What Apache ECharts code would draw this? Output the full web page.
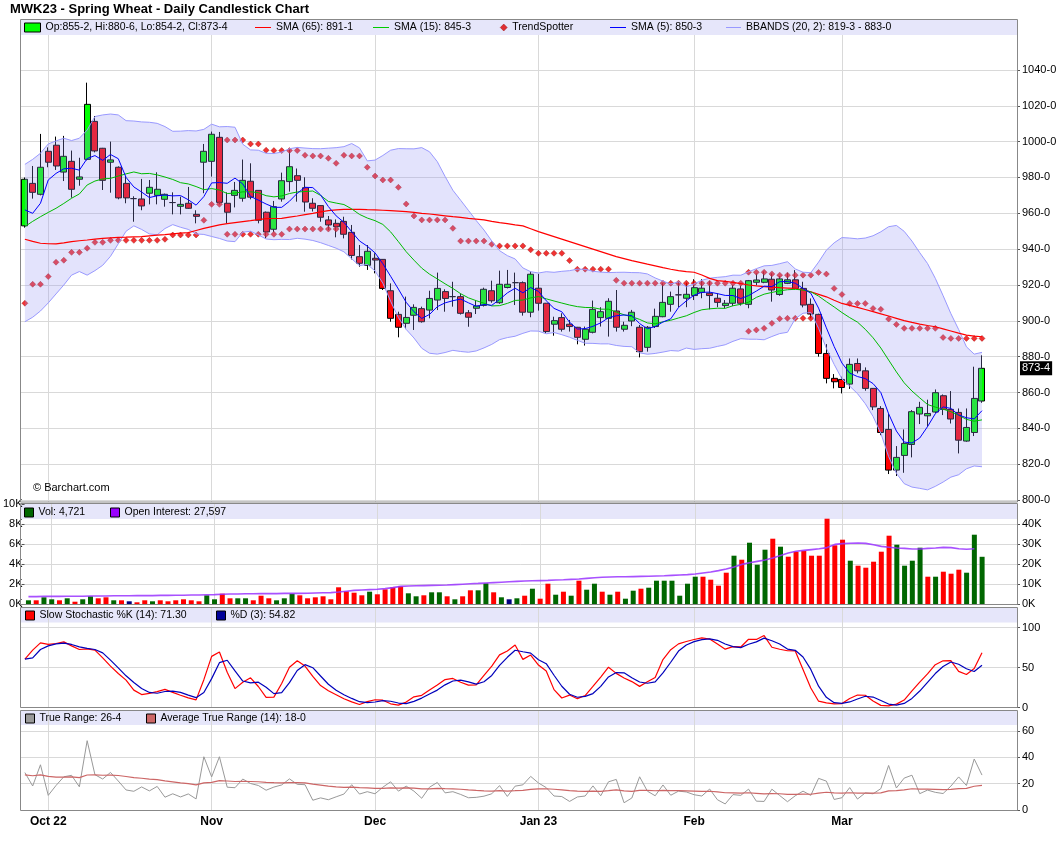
<!DOCTYPE html>
<html>
<head>
<meta charset="utf-8">
<script src="https://cdn.jsdelivr.net/npm/echarts@6/dist/echarts.min.js"></script>
<style>
  html, body { margin: 0; padding: 0; background: #fff; }
  #chart { width: 1060px; height: 851px; }
</style>
</head>
<body>
<div id="chart"></div>
<script>
var FONT = "'Liberation Sans', Arial, sans-serif";

// ---- trading days (Sep 28 2022 .. Mar 27 2023, plus 4 empty slots on the right)
var holidays = ['2022-11-24', '2022-12-26', '2023-01-02', '2023-01-16', '2023-02-20'];
var dates = [];
var d = new Date(Date.UTC(2022, 8, 28));
while (dates.length < 128) {
  var wd = d.getUTCDay();
  var s = d.toISOString().slice(0, 10);
  if (wd !== 0 && wd !== 6 && holidays.indexOf(s) < 0) dates.push(s);
  d.setUTCDate(d.getUTCDate() + 1);
}
var monthLabels = {
  '2022-10-03': 'Oct 22', '2022-11-01': 'Nov', '2022-12-01': 'Dec',
  '2023-01-03': 'Jan 23', '2023-02-01': 'Feb', '2023-03-01': 'Mar'
};

// ---- daily prices
var opens = [953, 976.7, 970.6, 994.6, 998, 983, 989, 979, 990.1, 1011.3,
  996.3, 988.5, 985.7, 976.7, 968.2, 968, 971.2, 970, 967.8, 966,
  963.9, 965.6, 959.4, 988.5, 989, 1002.4, 965.6, 970, 968.4, 977.9,
  972.8, 960.6, 951.1, 968, 977.7, 981, 974.3, 965.6, 964.3, 956.3,
  954.4, 955.5, 949.4, 935.8, 931, 934.9, 934.3, 916.8, 903.6, 898.6,
  903.1, 906.8, 906, 911.6, 916.3, 913.5, 913.5, 904.5, 907, 908.6,
  916.8, 910.1, 918.6, 921.3, 921.3, 904.8, 918.2, 909.8, 898.1, 901.8,
  898.1, 896.4, 889.7, 893.6, 901.8, 901.4, 905.5, 895.3, 899.9, 896.4,
  885.2, 896.8, 902.3, 909.2, 914.5, 912.6, 914.1, 915.9, 915.4, 912.6,
  908.5, 909.8, 917.8, 909.2, 921.5, 921.5, 923.2, 914.7, 920.9, 922.9,
  918.1, 909.2, 903.6, 881.8, 867.9, 867.3, 864.7, 876.2, 872.1, 862.3,
  851.1, 839.4, 816.7, 824.9, 831, 848, 847, 849.1, 858.2, 850.6,
  848.9, 832.9, 837.7, 855.25];
var highs = [980, 986.4, 1004.3, 996.8, 1002.8, 1003.2, 995, 991, 1032.9, 1014.3,
  996.5, 1000, 986.2, 980.8, 969.5, 979.2, 978.6, 982.9, 971, 971.7,
  969.3, 974.7, 961.7, 998.7, 1005.6, 1005.4, 971.7, 977.5, 990, 987.9,
  973, 961, 966.9, 982.7, 995.7, 985, 980.1, 968.4, 964.5, 958.5,
  956.6, 958.1, 953.5, 942.3, 942.3, 937.7, 934.5, 920.9, 905.1, 913.5,
  909.2, 907.9, 916.8, 926.9, 917.6, 921.8, 915.3, 906, 911.6, 918.5,
  922.4, 928, 928.4, 926.9, 922, 927.5, 926.2, 910, 902.3, 904.2,
  900.5, 896.6, 896.8, 911.3, 907.6, 912.6, 917.2, 899.5, 906.1, 897.7,
  897.1, 906.8, 921, 916.3, 921.9, 921.3, 923.2, 923.2, 922.3, 915.4,
  911.6, 920, 919.6, 922.8, 926.5, 927.5, 926.5, 925, 926.8, 928.3,
  921.8, 912.5, 904, 887, 870.3, 868.8, 879, 879, 874, 862.5,
  852.4, 848.3, 830.1, 839.4, 850.2, 854.8, 856, 861.7, 858.9, 860.8,
  851.1, 851.1, 874.4, 880.75];
var lows = [952, 968.2, 970, 985.7, 984.2, 978, 968.7, 975.4, 989.5, 994,
  973, 971.5, 967.8, 965.6, 955.3, 961.7, 965, 965, 963.7, 959.4,
  959.4, 962.5, 954.4, 971.2, 980.5, 965, 954.4, 963.3, 966.5, 967.8,
  954.4, 946, 949.5, 966.5, 972.1, 966.5, 960.9, 961, 955.3, 950.7,
  946.6, 946, 934.3, 930.2, 928.4, 926.5, 917.2, 899.5, 890.8, 895.4,
  894.9, 899, 901.4, 906, 905.1, 907.9, 903.5, 896.7, 903.8, 908,
  910.1, 909.5, 918.1, 908.8, 902.9, 902, 905.7, 893, 891.7, 894,
  894, 886.9, 886.2, 893, 896.8, 891.2, 894, 894, 897, 879.6,
  882.8, 896, 902, 905.1, 907.6, 907.6, 911.6, 912.6, 906.4, 907.6,
  907, 908.3, 908.5, 907, 919.8, 921, 910.7, 914, 920.5, 917.5,
  907.5, 901.4, 880, 865.1, 862.3, 859.5, 862, 870.7, 861, 850.2,
  836.2, 814.5, 813.4, 815.2, 823.8, 842.4, 840.9, 848.5, 847.4, 842.7,
  826, 832.5, 835.7, 854.25];
var closes = [979, 971.7, 985.7, 988.5, 986.4, 991.8, 973.4, 980.3, 1020.8, 994.8,
  978.4, 989.8, 968.6, 968.6, 968.2, 964.1, 974.5, 973.4, 970.6, 966,
  965, 962.8, 958.3, 994.6, 1004.1, 966.1, 960.6, 972.8, 978.4, 969,
  956.1, 949.6, 963.7, 978.2, 986, 978.4, 966.3, 962.8, 957.8, 953.5,
  952.5, 948.3, 936.5, 932.1, 938.8, 933.9, 918.1, 901.4, 896.4, 901.9,
  907.5, 899.5, 912.5, 918.1, 912.5, 913.5, 904.2, 902, 908.3, 917.6,
  911.2, 920.4, 920.4, 921.3, 904.8, 926, 909.8, 894, 900.1, 895.3,
  896.8, 890.8, 895.3, 906.4, 905.1, 910.9, 896.4, 897.5, 904.8, 882.8,
  896.4, 902.5, 910.3, 913.5, 914.5, 914.8, 918.5, 918.2, 914.1, 910.3,
  909.8, 918.2, 909.8, 922.4, 922.8, 923.4, 917.2, 923.4, 922.9, 918.1,
  908.8, 903.8, 881.8, 867.9, 866, 862.8, 875.7, 872.1, 862.3, 852,
  837.7, 816.7, 823.8, 831.6, 849.3, 851.7, 848.3, 859.9, 850.6, 845.2,
  833.4, 840.5, 856.7, 873.5];

// 65-day average (its window reaches before the first bar)
var sma65 = [945.5, 944.3, 943.3, 943, 942.9, 943.5, 944.2, 944.7, 945.1, 945.6,
  946, 946.3, 946.6, 946.7, 946.9, 947, 947.4, 947.8, 948.1, 948.5,
  948.9, 949.2, 950.4, 951.6, 952.6, 953.5, 954.2, 954.8, 955.4, 955.9,
  956.5, 957, 957.1, 957.2, 957.9, 958.5, 959.3, 960, 960.8, 961.5,
  961.9, 962.2, 962.2, 962.2, 962, 961.9, 961.7, 961.5, 961.2, 960.9,
  960.5, 960, 959.6, 959.1, 958.6, 958.1, 957.7, 957.2, 956.8, 956.3,
  955.5, 954.8, 954.2, 953.5, 953, 951.4, 949.8, 948.4, 947, 945.6,
  944.2, 942.8, 941.4, 940, 938.6, 937.2, 935.8, 934.7, 933.6, 932.6,
  931.6, 930.7, 929.7, 928.8, 928, 927.5, 927.1, 925.6, 923.7, 922.4,
  922, 921.5, 920.8, 920, 919.5, 919.1, 918.8, 918.5, 918.3, 918.1,
  917.2, 916.2, 914.8, 913.4, 911.5, 909.7, 908.6, 907.5, 906.3, 905.1,
  903.9, 902.7, 901.4, 900.1, 899.1, 898.2, 897.4, 896.7, 895.5, 894.3,
  893.1, 892, 891.5, 891.1];

// first values of the shorter indicators (their windows start before the first bar)
var sma5Lead = [961.9, 960, 965.6, 978.6];
var sma15Lead = [952.6, 955.5, 958.1, 960.5, 962.8, 965.5, 968.4, 970.8, 975.8, 978,
  979.2, 979.5, 980.8, 982];
var bbUpLead = [987.3, 990.1, 993.5, 998.7, 1000.4, 1001.9, 1000.6, 1001.9, 1006.5, 1014,
  1014.9, 1015.4, 1014.9, 1011.7, 1011.5, 1011, 1010.8, 1010.2, 1008.4];
var bbLoLead = [899.5, 902, 905.5, 910, 915, 920, 925.5, 927.5, 925.5, 928,
  931, 936, 943, 950, 953, 951, 948.5, 948, 951.5];
var kLead = [60.4, 71.7, 80.8, 78.8, 80, 82, 77, 72.5, 73.3, 71.7, 62, 51.7, 42.5, 34.2, 21.7];
var dLead = [60.4, 62, 72.5, 77, 79.6, 80.4, 78.8, 75.8, 73.8, 72.5, 68.3, 59.2, 49.6, 39.6, 31.3, 23.8, 18.8];
var trFirst = 28.4;
var atrFirst = 26.6;

// TrendSpotter stops (null = no dot)
var N = null;
var tsLower = [909.8, 920.4, 920.4, 924.7, 932.7, 933.8, 938.2, 938.2, 940.5, 943.8,
  943.8, 944.9, 944.9, 944.9, 944.9, 944.9, 944.9, 944.9, 945.5, 947.9,
  947.9, 947.9, 947.9, 956.1, 965, 965, 948.3, 948.3, 948.3, 948.3,
  948.3, 948.3, 948.3, 948.3, 951.2, 951.2, 951.2, 951.2, 951.2, 951.2,
  951.2, N, N, N, N, N, N, N, N, N,
  N, N, N, N, N, N, N, N, N, N,
  N, N, N, N, N, N, N, N, N, N,
  N, N, N, N, N, N, N, N, N, N,
  N, N, N, N, N, N, N, N, N, N,
  N, N, N, 894.2, 894.9, 895.8, 898.6, 901.2, 901.4, 901.4,
  901.4, 901.4, N, N, N, N, N, N, N, N,
  N, N, N, N, N, N, N, N, N, N,
  N, N, N, N];
var tsUpper = [N, N, N, N, N, N, N, N, N, N,
  N, N, N, N, N, N, N, N, N, N,
  N, N, N, N, N, N, 1000.9, 1000.9, 1000.9, 998.7,
  998.7, 995.2, 995, 995, 995, 995, 992.4, 992, 992, 990.7,
  987.9, 992.4, 992, 992, 985.7, 980.8, 978.6, 978.6, 974.5, 965.2,
  958.5, 956.3, 956.3, 956.3, 956.3, 951.6, 944.5, 944.5, 944.5, 944.5,
  942.7, 941.8, 941.8, 941.8, 941.8, 939.6, 937.7, 937.7, 937.7, 937.7,
  933.6, 928.8, 928.8, 928.8, 928.8, 928.8, 922.6, 921, 921, 921,
  921, 921, 921, 921, 921, 921, 921, 921, 921, 921,
  921, 921, 921, 927.1, 927.1, 927.1, 926.2, 925.5, 925.5, 925.5,
  925.5, 925.5, 927, 926.1, 918.1, 914.7, 909.7, 909.7, 909.7, 906.9,
  906.4, 901, 898, 895.8, 895.8, 895.8, 895.8, 895.8, 890.7, 890.2,
  890.2, 890.2, 890.2, 890.2];

// volume and open interest (contracts)
var volumes = [370, 370, 670, 470, 370, 570, 230, 470, 770, 570,
  670, 370, 370, 270, 170, 370, 270, 370, 270, 370,
  470, 370, 270, 870, 470, 1030, 570, 570, 570, 370,
  830, 570, 370, 570, 1030, 870, 570, 670, 770, 470,
  1670, 1270, 1130, 870, 1230, 970, 1470, 1670, 1770, 1070,
  770, 870, 1170, 1170, 770, 470, 770, 1370, 1370, 2070,
  1170, 670, 470, 570, 830, 1530, 530, 2030, 930, 1230,
  830, 2330, 1430, 2030, 1230, 930, 1230, 530, 1330, 1530,
  1630, 2330, 2330, 2330, 830, 2030, 2730, 2730, 2430, 1830,
  3130, 4830, 4430, 6130, 3930, 5430, 6530, 5730, 4730, 5230,
  5330, 4830, 4830, 8530, 5870, 6430, 4330, 3830, 3630, 4230,
  5230, 6830, 5930, 3830, 4330, 5630, 2730, 2730, 3230, 3030,
  3430, 3130, 6930, 4721];
var openInterest = [3700, 3700, 3800, 3800, 3800, 3900, 3900, 3900, 4000, 4000,
  4000, 4100, 4100, 4100, 4200, 4200, 4200, 4300, 4300, 4400,
  4400, 4500, 4500, 4600, 4700, 4900, 5000, 5000, 5100, 5100,
  5200, 5200, 5200, 5300, 5300, 5300, 5400, 5500, 5600, 5700,
  6000, 6400, 6800, 7000, 7200, 7400, 7700, 8200, 8800, 9000,
  9100, 9200, 9300, 9400, 9500, 9700, 9900, 10100, 10300, 10500,
  10700, 10900, 11100, 11300, 11500, 11600, 11700, 11800, 12000, 12100,
  12300, 12500, 12800, 13100, 13400, 13500, 13600, 13600, 13700, 13800,
  13900, 14000, 14100, 14300, 14500, 14700, 15000, 15500, 16000, 16700,
  17500, 18500, 19800, 20600, 21300, 22000, 23000, 24300, 25500, 26400,
  26800, 27200, 27600, 28200, 29800, 30200, 30400, 30500, 30300, 29600,
  28800, 28400, 28000, 27800, 27500, 27500, 27800, 28000, 28300, 28200,
  27600, 27400, 27597, null];

var legendText = {
  'OHLC': 'Op:855-2, Hi:880-6, Lo:854-2, Cl:873-4',
  'SMA (65)': 'SMA (65): 891-1',
  'SMA (15)': 'SMA (15): 845-3',
  'TrendSpotter': 'TrendSpotter',
  'SMA (5)': 'SMA (5): 850-3',
  'BBANDS (20, 2)': 'BBANDS (20, 2): 819-3 - 883-0',
  'Vol': 'Vol: 4,721',
  'Open Interest': 'Open Interest: 27,597',
  'Slow Stochastic %K (14)': 'Slow Stochastic %K (14): 71.30',
  '%D (3)': '%D (3): 54.82',
  'True Range': 'True Range: 26-4',
  'Average True Range (14)': 'Average True Range (14): 18-0'
};

// ---- indicators built from the bars
function smaLead(src, n, lead) {
  return src.map(function (v, i) {
    if (i < n - 1) return lead[i];
    var sum = 0;
    for (var k = i - n + 1; k <= i; k++) sum += src[k];
    return +(sum / n).toFixed(2);
  });
}
var sma5 = smaLead(closes, 5, sma5Lead);
var sma15 = smaLead(closes, 15, sma15Lead);

var bbUp = [], bbLo = [];
closes.forEach(function (c, i) {
  if (i < 19) { bbUp.push(bbUpLead[i]); bbLo.push(bbLoLead[i]); return; }
  var m = 0, k;
  for (k = i - 19; k <= i; k++) m += closes[k];
  m /= 20;
  var v = 0;
  for (k = i - 19; k <= i; k++) v += (closes[k] - m) * (closes[k] - m);
  var sd = Math.sqrt(v / 20);
  bbUp.push(+(m + 2 * sd).toFixed(2));
  bbLo.push(+(m - 2 * sd).toFixed(2));
});
var bbWidth = bbUp.map(function (u, i) { return +(u - bbLo[i]).toFixed(2); });

var fastK = closes.map(function (c, i) {
  if (i < 13) return null;
  var hh = -Infinity, ll = Infinity;
  for (var k = i - 13; k <= i; k++) { hh = Math.max(hh, highs[k]); ll = Math.min(ll, lows[k]); }
  return (c - ll) / (hh - ll) * 100;
});
var slowK = closes.map(function (c, i) {
  return i < 15 ? kLead[i] : +((fastK[i] + fastK[i - 1] + fastK[i - 2]) / 3).toFixed(2);
});
var pctD = slowK.map(function (k, i) {
  return i < 17 ? dLead[i] : +((slowK[i] + slowK[i - 1] + slowK[i - 2]) / 3).toFixed(2);
});

var trueRange = closes.map(function (c, i) {
  if (i === 0) return trFirst;
  var pc = closes[i - 1];
  return +(Math.max(highs[i], pc) - Math.min(lows[i], pc)).toFixed(2);
});
var atr = [];
trueRange.forEach(function (t, i) {
  atr.push(i === 0 ? atrFirst : +((atr[i - 1] * 13 + t) / 14).toFixed(2));
});

function volColor(i) {
  if (i === 0 || closes[i] > closes[i - 1]) return '#006600';
  if (closes[i] < closes[i - 1]) return '#ff0000';
  return '#000080';
}
function eighths(v) {
  var w = Math.floor(v), e = Math.round((v - w) * 8);
  if (e === 8) { w += 1; e = 0; }
  return w + '-' + e;
}

var tsData = [];
tsUpper.forEach(function (v, i) { if (v !== null) tsData.push([i, v]); });
tsLower.forEach(function (v, i) { if (v !== null) tsData.push([i, v]); });

// ---- layout helpers
var GRID_L = 21, GRID_R = 43;
var isMonth = function (i, v) { return monthLabels[v] !== undefined; };

function xAx(grid, showLabels) {
  return {
    type: 'category', gridIndex: grid, data: dates, boundaryGap: true,
    axisLine: { show: false }, axisTick: { show: false },
    axisLabel: {
      show: showLabels, interval: isMonth, margin: 6,
      formatter: function (v) { return monthLabels[v] || ''; },
      fontSize: 12, fontWeight: 'bold', color: '#000', fontFamily: FONT
    },
    splitLine: { show: true, alignWithLabel: true, interval: isMonth, lineStyle: { color: '#d9d9d9' } }
  };
}
function yAx(grid, pos, extra) {
  var base = {
    type: 'value', gridIndex: grid, position: pos,
    axisLine: { show: false },
    axisTick: { show: true, length: 3, lineStyle: { color: '#555' } },
    axisLabel: { fontSize: 11, color: '#000', margin: 5, fontFamily: FONT, showMaxLabel: false },
    splitLine: { show: true, showMaxLine: false, lineStyle: { color: '#d9d9d9' } }
  };
  for (var k in extra) {
    if (typeof extra[k] === 'object' && base[k]) Object.assign(base[k], extra[k]);
    else base[k] = extra[k];
  }
  return base;
}
// legend rows are 11px tall (text line height), icons are centred in them
var LEG_H = 11;
var graphics = [];
function lg(left, centerY, name, icon, w, h, style) {
  return {
    left: left, top: Math.round(centerY - LEG_H / 2), padding: 0, itemGap: 0,
    itemWidth: w, itemHeight: h, selectedMode: false,
    data: [{ name: name, icon: icon, itemStyle: style }],
    formatter: function (n) { return legendText[n]; },
    textStyle: { fontSize: 10.5, lineHeight: LEG_H, color: '#000', fontFamily: FONT }
  };
}
// line-type legend entry: the legend keeps the text, the coloured stroke is a graphic
function lgLine(left, centerY, name, w, color) {
  graphics.push({
    type: 'rect', z: 100,
    shape: { x: left, y: Math.floor(centerY), width: w, height: 1 },
    style: { fill: color }
  });
  return lg(left, centerY, name, 'none', w, 1, { opacity: 0 });
}
function box(c) { return { color: c, borderColor: '#000', borderWidth: 1 }; }

var panels = [
  { y: 19.5, h: 482.5, strip: 15 },
  { y: 503.5, h: 101, strip: 15 },
  { y: 607.5, h: 100, strip: 14.5 },
  { y: 710.5, h: 100, strip: 14 }
];
panels.forEach(function (p) {
  graphics.push({ type: 'rect', z: -1, shape: { x: GRID_L, y: p.y + 0.5, width: 996, height: p.strip },
    style: { fill: '#e6e6fa' } });
  graphics.push({ type: 'rect', z: 100, shape: { x: 20.5, y: p.y, width: 997, height: p.h },
    style: { fill: 'none', stroke: '#888', lineWidth: 1 } });
});
graphics.push({ type: 'text', left: 33, top: 482, z: 100,
  style: { text: '\u00a9 Barchart.com', fill: '#000', font: '11px ' + FONT } });

var legends = [
  lg(24, 27.5, 'OHLC', 'rect', 16, 9, box('#00ff00')),
  lgLine(255, 27.5, 'SMA (65)', 16, '#ff0000'),
  lgLine(373, 27.5, 'SMA (15)', 16, '#00cc00'),
  lg(500, 27.5, 'TrendSpotter', 'diamond', 7, 7, { color: '#dd0000', borderColor: '#880000', borderWidth: 0.5 }),
  lgLine(610, 27.5, 'SMA (5)', 16, '#0000ff'),
  lgLine(726, 27.5, 'BBANDS (20, 2)', 15, '#9999ff'),
  lg(24, 512, 'Vol', 'rect', 9, 9, box('#006600')),
  lg(110, 512, 'Open Interest', 'rect', 9, 9, box('#9900ff')),
  lg(25, 615, 'Slow Stochastic %K (14)', 'rect', 9, 9, box('#ff0000')),
  lg(216, 615, '%D (3)', 'rect', 9, 9, box('#000099')),
  lg(25, 718, 'True Range', 'rect', 9, 9, box('#999999')),
  lg(146, 718, 'Average True Range (14)', 'rect', 9, 9, box('#cc6666'))
];

var chart = echarts.init(document.getElementById('chart'), null, { renderer: 'canvas' });

var lastClose = closes[closes.length - 1];

chart.setOption({
  animation: false,
  backgroundColor: '#fff',
  title: {
    text: 'MWK23 - Spring Wheat - Daily Candlestick Chart', left: 10, top: 3, padding: 0,
    textStyle: { fontSize: 13, fontWeight: 'bold', color: '#000', fontFamily: FONT }
  },
  graphic: graphics,
  legend: legends,
  grid: [
    { left: GRID_L, right: GRID_R, top: 35, height: 467 },
    { left: GRID_L, right: GRID_R, top: 504, height: 100 },
    { left: GRID_L, right: GRID_R, top: 607.5, height: 100 },
    { left: GRID_L, right: GRID_R, top: 710.5, height: 99.5 }
  ],
  xAxis: [xAx(0, false), xAx(1, false), xAx(2, false), xAx(3, true)],
  yAxis: [
    yAx(0, 'right', {
      min: 798.9, max: 1059.5, splitNumber: 13,
      axisLabel: {
        showMinLabel: false,
        formatter: function (v) { return (v >= 800 && v <= 1040 && v % 20 === 0) ? v + '-0' : ''; }
      },
      splitLine: { showMinLine: false }
    }),
    yAx(1, 'left', {
      min: 0, max: 10000, interval: 2000,
      axisLabel: { margin: 2, showMaxLabel: true, formatter: function (v) { return v / 1000 + 'K'; } },
      splitLine: { show: false }
    }),
    yAx(1, 'right', {
      min: 0, max: 50000, interval: 10000,
      axisLabel: { formatter: function (v) { return v / 1000 + 'K'; } }
    }),
    yAx(2, 'right', { min: 0, max: 125, interval: 50 }),
    yAx(3, 'right', { min: 0, max: 75.5, interval: 20 })
  ],
  series: [
    {
      name: 'bbLower', type: 'line', xAxisIndex: 0, yAxisIndex: 0, stack: 'bb',
      symbol: 'none', data: bbLo, lineStyle: { color: '#9999ff', width: 1 }, silent: true
    },
    {
      name: 'BBANDS (20, 2)', type: 'line', xAxisIndex: 0, yAxisIndex: 0, stack: 'bb',
      symbol: 'none', data: bbWidth, color: '#9999ff',
      lineStyle: { color: '#9999ff', width: 1 },
      areaStyle: { color: 'rgba(150,150,245,0.38)' }, silent: true
    },
    {
      name: 'OHLC', type: 'candlestick', xAxisIndex: 0, yAxisIndex: 0, barWidth: 6.5,
      data: opens.map(function (o, i) { return [o, closes[i], lows[i], highs[i]]; }),
      itemStyle: {
        color: '#00ff00', color0: '#ff0000', borderColor: '#000', borderColor0: '#000',
        borderColorDoji: '#000', borderWidth: 1
      },
      silent: true
    },
    {
      name: 'SMA (65)', type: 'line', xAxisIndex: 0, yAxisIndex: 0, symbol: 'none',
      data: sma65, color: '#ff0000', lineStyle: { color: '#ff0000', width: 1.2 }, silent: true,
      // last price tag on the right edge
      markLine: {
        silent: true, symbol: ['none', 'none'], animation: false,
        lineStyle: { color: 'rgba(0,0,0,0)', width: 0 },
        label: {
          show: true, position: 'end', distance: 3,
          formatter: eighths(lastClose),
          color: '#fff', backgroundColor: '#000', padding: [2, 2, 1, 2],
          fontSize: 11, fontFamily: FONT
        },
        data: [{ yAxis: lastClose }]
      }
    },
    {
      name: 'SMA (15)', type: 'line', xAxisIndex: 0, yAxisIndex: 0, symbol: 'none',
      data: sma15, color: '#00bb00', lineStyle: { color: '#00bb00', width: 1 }, silent: true
    },
    {
      name: 'SMA (5)', type: 'line', xAxisIndex: 0, yAxisIndex: 0, symbol: 'none',
      data: sma5, color: '#0000ff', lineStyle: { color: '#0000ff', width: 1 }, silent: true
    },
    {
      name: 'TrendSpotter', type: 'scatter', xAxisIndex: 0, yAxisIndex: 0,
      symbol: 'diamond', symbolSize: 6, data: tsData,
      itemStyle: { color: '#ee0000', borderColor: '#990000', borderWidth: 0.5 }, silent: true
    },
    {
      name: 'Vol', type: 'bar', xAxisIndex: 1, yAxisIndex: 1, barWidth: 5,
      data: volumes.map(function (v, i) { return { value: v, itemStyle: { color: volColor(i) } }; }),
      silent: true
    },
    {
      name: 'Open Interest', type: 'line', xAxisIndex: 1, yAxisIndex: 2, symbol: 'none',
      data: openInterest, color: '#9900ff',
      lineStyle: { color: '#9933ff', width: 1.6, opacity: 0.85 }, silent: true
    },
    {
      name: 'Slow Stochastic %K (14)', type: 'line', xAxisIndex: 2, yAxisIndex: 3, symbol: 'none',
      data: slowK, color: '#ff0000', lineStyle: { color: '#ff0000', width: 1.2 }, silent: true
    },
    {
      name: '%D (3)', type: 'line', xAxisIndex: 2, yAxisIndex: 3, symbol: 'none',
      data: pctD, color: '#000099', lineStyle: { color: '#0000bb', width: 1.2 }, silent: true
    },
    {
      name: 'True Range', type: 'line', xAxisIndex: 3, yAxisIndex: 4, symbol: 'none',
      data: trueRange, color: '#999999', lineStyle: { color: '#999999', width: 1 }, silent: true
    },
    {
      name: 'Average True Range (14)', type: 'line', xAxisIndex: 3, yAxisIndex: 4, symbol: 'none',
      data: atr, color: '#cc6666', lineStyle: { color: '#cc6666', width: 1.2 }, silent: true
    }
  ]
});

window.addEventListener('resize', chart.resize);
</script>
</body>
</html>
